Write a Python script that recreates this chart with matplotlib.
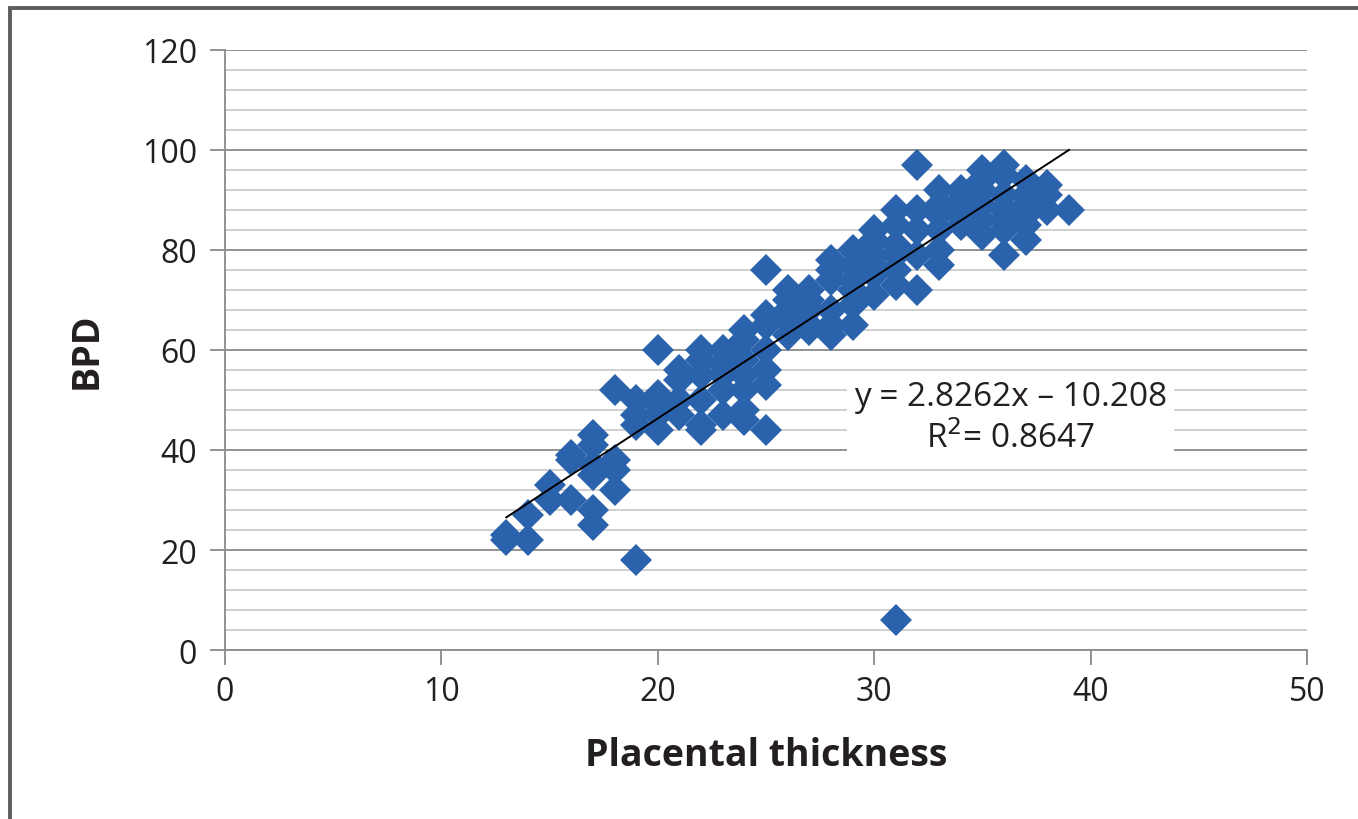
import matplotlib.pyplot as plt
import matplotlib.patches as patches
import numpy as np

# Placental thickness (x) and BPD (y)
thickness = [13, 13, 14, 14, 15, 15, 16, 16, 16,
             17, 17, 17, 17, 17, 17, 18, 18, 18, 18,
             19, 19, 19, 19, 20, 20, 20, 20, 20,
             21, 21, 21, 21, 22, 22, 22, 22, 22, 22,
             23, 23, 23, 23, 23, 24, 24, 24, 24, 24, 24, 24,
             25, 25, 25, 25, 25, 25, 25, 26, 26, 26, 26, 26,
             27, 27, 27, 27, 27, 28, 28, 28, 28, 28, 28,
             29, 29, 29, 29, 29, 29, 30, 30, 30, 30, 30, 30,
             31, 31, 31, 31, 31, 31, 31, 32, 32, 32, 32, 32,
             33, 33, 33, 33, 33, 33, 34, 34, 34, 34, 34,
             35, 35, 35, 35, 35, 35, 36, 36, 36, 36, 36, 36, 36,
             37, 37, 37, 37, 37, 37, 38, 38, 38, 39]
bpd = [23, 22, 27, 22, 33, 30, 39, 38, 30,
       43, 41, 37, 35, 28, 25, 52, 38, 36, 32,
       50, 47, 45, 18, 60, 51, 49, 47, 44,
       56, 54, 50, 47, 60, 58, 55, 50, 45, 44,
       60, 57, 55, 52, 47, 64, 62, 58, 55, 52, 48, 46,
       76, 67, 65, 60, 56, 53, 44, 72, 70, 68, 66, 63,
       72, 70, 68, 65, 64, 78, 76, 74, 68, 65, 63,
       80, 77, 74, 72, 69, 65, 84, 82, 79, 77, 75, 71,
       88, 85, 81, 79, 76, 73, 6, 97, 88, 84, 79, 72,
       92, 89, 87, 84, 80, 77, 92, 90, 88, 87, 85,
       96, 94, 92, 89, 86, 83, 97, 95, 91, 88, 86, 84, 79,
       94, 91, 89, 87, 85, 82, 93, 91, 88, 88]

slope = 2.8262
intercept = -10.208
r2 = 0.8647
x_ticks = [0, 10, 20, 30, 40, 50]
y_ticks = [0, 20, 40, 60, 80, 100, 120]

fig = plt.figure(figsize=(13.58, 8.20), dpi=100)
ax = fig.add_axes([225/1358, 1 - 651/820, (1307 - 225)/1358, (651 - 51)/820])

# grey frame round the whole chart
fig.patches.append(patches.Rectangle((10/1358, -0.1), 1.2, 1 - 9/820 + 0.1,
                                     transform=fig.transFigure, fill=False,
                                     edgecolor='#5e5e5e', linewidth=2.8))

ax.plot(thickness, bpd, linestyle='none', marker='D', markersize=16,
        color='#2B62AC', markeredgewidth=0, zorder=3)

# linear trend line
xt = np.array([min(thickness), max(thickness)])
ax.plot(xt, slope * xt + intercept, color='black', linewidth=1.4, zorder=4)

ax.set_xlim(0, 50)
ax.set_ylim(0, 120)
ax.set_xticks(x_ticks)
ax.set_yticks(y_ticks)
ax.set_yticks(np.arange(0, 121, 4), minor=True)

ax.grid(axis='y', which='major', color='#8a8a8a', linewidth=1.3, zorder=0)
ax.grid(axis='y', which='minor', color='#c4c4c4', linewidth=1.1, zorder=0)
ax.set_axisbelow(True)

for side in ['top', 'right']:
    ax.spines[side].set_visible(False)
for side in ['left', 'bottom']:
    ax.spines[side].set_color('#8a8a8a')
    ax.spines[side].set_linewidth(1.3)

font = 'Open Sans'
ax.tick_params(axis='both', which='major', direction='out', length=11,
               width=1.3, color='#8a8a8a', labelsize=23, labelcolor='#231f20')
ax.tick_params(axis='y', which='minor', length=0)
ax.tick_params(axis='y', pad=9)
ax.tick_params(axis='x', pad=7)
for lab in ax.get_xticklabels() + ax.get_yticklabels():
    lab.set_family(font)

ax.set_xlabel('Placental thickness', fontsize=27, fontweight='bold',
              family=font, color='#231f20', labelpad=20)
ax.set_ylabel('BPD', fontsize=27, fontweight='bold', family=font,
              color='#231f20', labelpad=26)

eq = f'y = {slope}x \u2013 {abs(intercept):.3f}\nR$^2$= {r2}'
ax.text(36.3, 46.5, eq, fontsize=24, family=font, color='#231f20',
        ha='center', va='center', linespacing=1.3, zorder=5,
        bbox=dict(facecolor='white', edgecolor='none', pad=5))

fig.savefig('out.png', dpi=100)
